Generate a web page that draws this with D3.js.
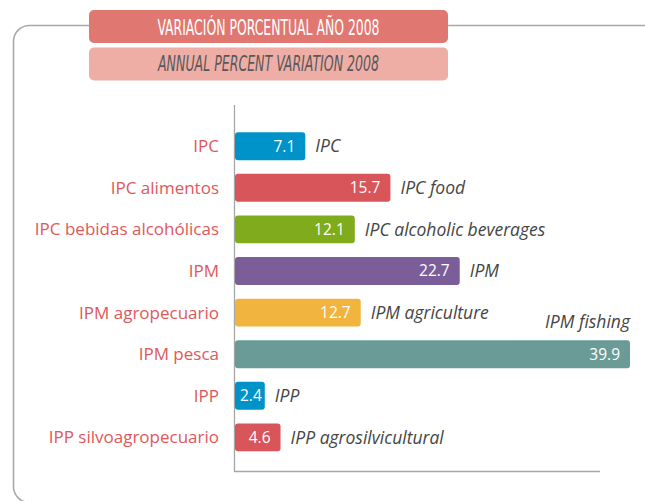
<!DOCTYPE html>
<html>
<head>
<meta charset="utf-8">
<script src="https://cdn.jsdelivr.net/npm/d3@7/dist/d3.min.js"></script>
<style>
  html, body { margin: 0; padding: 0; background: #fff; }
  svg { display: block; }
</style>
</head>
<body>
<svg id="chart" width="645" height="501"></svg>
<script>
// Annual percent variation, 2008
const categories = [
  "IPC", "IPC alimentos", "IPC bebidas alcohólicas", "IPM",
  "IPM agropecuario", "IPM pesca", "IPP", "IPP silvoagropecuario"
];
const englishLabels = [
  "IPC", "IPC food", "IPC alcoholic beverages", "IPM",
  "IPM agriculture", "IPM fishing", "IPP", "IPP agrosilvicultural"
];
const values = [7.1, 15.7, 12.1, 22.7, 12.7, 39.9, 2.4, 4.6];
const barColors = ["#0093c9", "#d8555a", "#80ab1c", "#7b5e99", "#f0b43f", "#6a9b97", "#0093c9", "#d8555a"];
const titleEs = "VARIACIÓN PORCENTUAL AÑO 2008";
const titleEn = "ANNUAL PERCENT VARIATION 2008";

const svg = d3.select("#chart");
const fontBody = "'Open Sans', Lato, sans-serif";
const fontTitle = "'Liberation Sans Narrow', 'DejaVu Sans Condensed', sans-serif";

// outer rounded frame
svg.append("rect")
  .attr("x", 13.5).attr("y", 25.5)
  .attr("width", 700).attr("height", 477)
  .attr("rx", 16).attr("ry", 16)
  .attr("fill", "none").attr("stroke", "#a9a9a9").attr("stroke-width", 1.6);

// title boxes
const tb = { x: 89, w: 359 };
svg.append("rect").attr("x", tb.x).attr("y", 10).attr("width", tb.w).attr("height", 33)
  .attr("rx", 5).attr("fill", "#e07771");
svg.append("rect").attr("x", tb.x).attr("y", 47.5).attr("width", tb.w).attr("height", 33)
  .attr("rx", 5).attr("fill", "#eeaea6");

svg.append("text")
  .attr("x", tb.x + tb.w / 2).attr("y", 35)
  .attr("text-anchor", "middle")
  .attr("font-family", fontTitle).attr("font-size", 21)
  .attr("fill", "#fff")
  .attr("textLength", 222).attr("lengthAdjust", "spacingAndGlyphs")
  .text(titleEs);
svg.append("text")
  .attr("x", tb.x + tb.w / 2).attr("y", 71)
  .attr("text-anchor", "middle")
  .attr("font-family", fontTitle).attr("font-size", 22)
  .attr("font-style", "italic")
  .attr("fill", "#58585a")
  .attr("textLength", 221).attr("lengthAdjust", "spacingAndGlyphs")
  .text(titleEn);

// scales
const x = d3.scaleLinear().domain([0, 40]).range([235, 631]);
const y = d3.scaleBand().domain(categories).range([125.4, 458.2])
  .paddingInner(0.33).paddingOuter(0.165);

// axes lines
const axisColor = "#a6a6a6";
svg.append("line")
  .attr("x1", x(0) - 0.5).attr("x2", x(0) - 0.5)
  .attr("y1", 105).attr("y2", 472)
  .attr("stroke", axisColor).attr("stroke-width", 1.3);
svg.append("line")
  .attr("x1", x(0) - 1).attr("x2", 600)
  .attr("y1", 471.5).attr("y2", 471.5)
  .attr("stroke", axisColor).attr("stroke-width", 1.3);

// category labels (left)
svg.append("g").selectAll("text")
  .data(categories).join("text")
  .attr("x", x(0) - 16)
  .attr("y", d => y(d) + y.bandwidth() / 2)
  .attr("dy", "0.35em")
  .attr("text-anchor", "end")
  .attr("font-family", fontBody).attr("font-size", 17)
  .attr("fill", "#e0585a")
  .text(d => d);

const rows = categories.map((c, i) => ({ c, v: values[i], en: englishLabels[i], color: barColors[i] }));

// measure value labels so short bars still hold their number
const valSize = 15.5;
const measure = svg.append("text")
  .attr("font-family", fontBody).attr("font-size", valSize)
  .attr("visibility", "hidden");
rows.forEach(r => {
  measure.text(d3.format(".1f")(r.v));
  r.tw = measure.node().getComputedTextLength();
  r.end = Math.max(x(r.v), x(0) + r.tw + 8);
});
measure.remove();

const g = svg.append("g");
g.selectAll("rect")
  .data(rows).join("rect")
  .attr("x", x(0))
  .attr("y", d => y(d.c))
  .attr("width", d => d.end - x(0))
  .attr("height", y.bandwidth())
  .attr("rx", 3)
  .attr("fill", d => d.color);

// value labels inside bars
g.selectAll("text.val")
  .data(rows).join("text")
  .attr("class", "val")
  .attr("x", d => (d.end - x(0) > d.tw + 20) ? d.end - 10 : d.end - 3)
  .attr("y", d => y(d.c) + y.bandwidth() / 2)
  .attr("dy", "0.35em")
  .attr("text-anchor", "end")
  .attr("font-family", fontBody).attr("font-size", valSize)
  .attr("fill", "#fff")
  .text(d => d3.format(".1f")(d.v));

// english labels: beside the bar, or above it when the bar is long
g.selectAll("text.en")
  .data(rows).join("text")
  .attr("class", "en")
  .attr("x", d => d.v > 30 ? d.end : d.end + 10)
  .attr("y", d => d.v > 30 ? y(d.c) - 12 : y(d.c) + y.bandwidth() / 2)
  .attr("dy", d => d.v > 30 ? 0 : "0.35em")
  .attr("text-anchor", d => d.v > 30 ? "end" : "start")
  .attr("font-family", fontBody).attr("font-size", 17.5)
  .attr("font-style", "italic")
  .attr("fill", "#454545")
  .text(d => d.en);
</script>
</body>
</html>
